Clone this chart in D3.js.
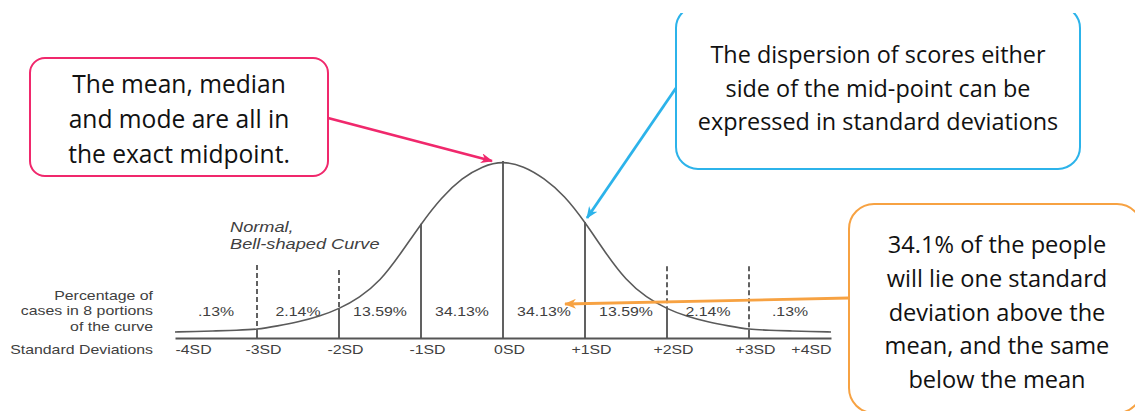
<!DOCTYPE html>
<html><head><meta charset="utf-8">
<script src="https://cdn.jsdelivr.net/npm/d3@7/dist/d3.min.js"></script>
<style>
html,body{margin:0;padding:0;background:#fff;}
svg{display:block;}
</style></head>
<body>
<svg id="chart" width="1135" height="411"></svg>
<script>
// ---- data ----
const curveSD     = [-4,-3.75,-3.5,-3.25,-3,-2.75,-2.5,-2.25,-2,-1.75,-1.5,-1.25,-1,-0.75,-0.5,-0.25,0,0.25,0.5,0.75,1,1.25,1.5,1.75,2,2.25,2.5,2.75,3,3.25,3.5,3.75,4];
const curveHeight = [3.4,3.7,4.0,4.4,4.8,6.8,9.0,12.0,16.4,22.8,32.0,47.5,64.5,79.5,90.4,97.2,100,97.2,90.4,80.5,65.5,48.0,32.5,22.8,16.4,12.0,9.0,6.8,4.8,4.4,4.0,3.7,3.4];
const sdTicks     = [-4,-3,-2,-1,0,1,2,3,4];
const sdLabels    = ["-4SD","-3SD","-2SD","-1SD","0SD","+1SD","+2SD","+3SD","+4SD"];
const solidLines  = [-3,-2,-1,0,1,2,3];
const dashedLines = [-3,-2,2,3];
const dashedTop   = [41.2,38.4,40.5,40.5];
const portionStart= [-4,-3,-2,-1,0,1,2,3];
const portionLabels=[".13%","2.14%","13.59%","34.13%","34.13%","13.59%","2.14%",".13%"];
const rowLabelPct = ["Percentage of","cases in 8 portions","of the curve"];
const rowLabelSD  = "Standard Deviations";
const curveName   = ["Normal,","Bell-shaped Curve"];
const noteMean    = ["The mean, median","and mode are all in","the exact midpoint."];
const noteSD      = ["The dispersion of scores either","side of the mid-point can be","expressed in standard deviations"];
const notePct     = ["34.1% of the people","will lie one standard","deviation above the","mean, and the same","below the mean"];

// ---- drawing ----
const svg = d3.select("#chart");
const x = d3.scaleLinear().domain([-4,4]).range([175,831]);
const y = d3.scaleLinear().domain([0,100]).range([338,161]);
const gray = "#616161", txtGray = "#404040";
const stretch = 1.28;
const heightAt = sd => curveHeight[curveSD.indexOf(sd)];

const defs = svg.append("defs");
function marker(id,color){
  defs.append("marker").attr("id",id).attr("viewBox","0 0 12 10")
    .attr("refX",11).attr("refY",5).attr("markerWidth",12).attr("markerHeight",10)
    .attr("markerUnits","userSpaceOnUse").attr("orient","auto")
    .append("path").attr("d","M0,0 L12,5 L0,10 L3.5,5 Z").attr("fill",color);
}
const pink="#f0286c", blue="#2cb3ea", orange="#f7a242";
marker("mPink",pink); marker("mBlue",blue); marker("mOrange",orange);
defs.append("clipPath").attr("id","topClip").append("rect")
  .attr("x",0).attr("y",13).attr("width",1135).attr("height",400);

// dashed extensions
svg.append("g").selectAll("line").data(dashedLines).join("line")
  .attr("x1",d=>x(d)).attr("x2",d=>x(d))
  .attr("y1",(d,i)=>y(dashedTop[i])).attr("y2",d=>y(heightAt(d)))
  .attr("stroke",gray).attr("stroke-width",2).attr("stroke-dasharray","5,3");

// solid verticals
svg.append("g").selectAll("line").data(solidLines).join("line")
  .attr("x1",d=>x(d)).attr("x2",d=>x(d))
  .attr("y1",d=>y(heightAt(d))).attr("y2",y(0))
  .attr("stroke",gray).attr("stroke-width",2);

// curve
const pts = curveSD.map((s,i)=>[s,curveHeight[i]]);
svg.append("path").datum(pts)
  .attr("d",d3.line().x(d=>x(d[0])).y(d=>y(d[1])).curve(d3.curveBasis))
  .attr("fill","none").attr("stroke","#5a5a5a").attr("stroke-width",1.6);

// baseline axis
const axis = d3.axisBottom(x).tickValues(sdTicks).tickSize(0).tickFormat((d,i)=>sdLabels[i]);
const ax = svg.append("g").attr("transform",`translate(0,${y(0)})`).call(axis);
ax.select(".domain").attr("stroke","#555").attr("stroke-width",2);
ax.selectAll(".tick text").remove();
ax.selectAll(".tick").each(function(d,i){
  const anchor = i===0 ? "start" : (i===sdTicks.length-1 ? "end" : "middle");
  const dx = (i===0||i===sdTicks.length-1) ? 0 : 6;
  d3.select(this).append("text")
    .attr("transform",`translate(${dx},15.5) scale(${stretch},1)`)
    .attr("text-anchor",anchor).attr("fill",txtGray)
    .style("font","12.4px 'Liberation Sans', Arial, sans-serif")
    .text(sdLabels[i]);
});

function grayText(g,str,tx,ty,anchor,size,italic,st){
  g.append("text").attr("transform",`translate(${tx},${ty}) scale(${st||stretch},1)`)
    .attr("text-anchor",anchor).attr("fill",txtGray)
    .style("font",`${italic?"italic ":""}${size}px 'Liberation Sans', Arial, sans-serif`)
    .text(str);
}
const tg = svg.append("g");
portionLabels.forEach((t,i)=>grayText(tg,t,x(portionStart[i]+0.5),316,"middle",12.4,false));
rowLabelPct.forEach((t,i)=>grayText(tg,t,153,299.5+i*15.5,"end",12.4,false));
grayText(tg,rowLabelSD,153,353.5,"end",12.4,false);
curveName.forEach((t,i)=>grayText(tg,t,230,232+i*17,"start",14,true,1.3));

// callouts
function textLines(lines,cx,by,step,size){
  const t = svg.append("text").attr("text-anchor","middle").attr("fill","#111")
    .style("font",`${size}px 'Open Sans', 'Noto Sans', sans-serif`);
  lines.forEach((l,i)=>t.append("tspan").attr("x",cx).attr("y",by+i*step).text(l));
}
// pink
svg.append("rect").attr("x",30).attr("y",58).attr("width",298).attr("height",118).attr("rx",15)
  .attr("fill","#fff").attr("stroke",pink).attr("stroke-width",2);
textLines(noteMean,179,93,35,24.6);
svg.append("line").attr("x1",328).attr("y1",118).attr("x2",492).attr("y2",161)
  .attr("stroke",pink).attr("stroke-width",2.8).attr("marker-end","url(#mPink)");
// blue
svg.append("rect").attr("x",676).attr("y",6).attr("width",404).attr("height",163).attr("rx",22)
  .attr("fill","#fff").attr("stroke",blue).attr("stroke-width",2).attr("clip-path","url(#topClip)");
textLines(noteSD,878,63,33.5,23.4);
svg.append("line").attr("x1",676).attr("y1",88).attr("x2",587).attr("y2",218)
  .attr("stroke",blue).attr("stroke-width",2.8).attr("marker-end","url(#mBlue)");
// orange
svg.append("rect").attr("x",849).attr("y",204).attr("width",293).attr("height",209).attr("rx",25)
  .attr("fill","#fff").attr("stroke",orange).attr("stroke-width",2);
textLines(notePct,997,253,33.8,23.6);
svg.append("line").attr("x1",849).attr("y1",298).attr("x2",565).attr("y2",304)
  .attr("stroke",orange).attr("stroke-width",2.8).attr("marker-end","url(#mOrange)");
</script>
</body></html>
